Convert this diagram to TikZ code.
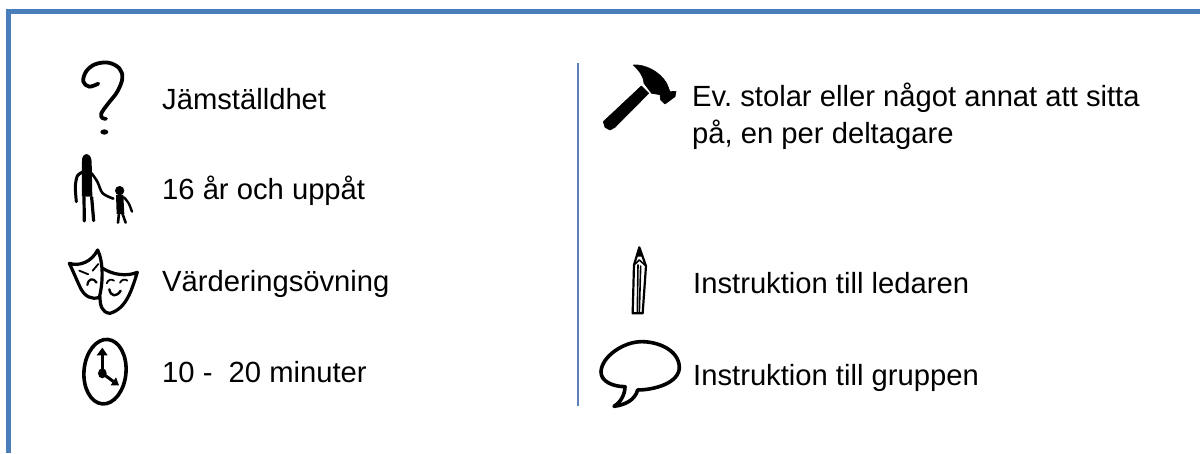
\documentclass[tikz,border=0pt]{standalone}
\usepackage{fontspec}
\setmainfont{Liberation Sans}
\definecolor{framebl}{HTML}{4A7EBB}
\definecolor{divbl}{HTML}{5F80BE}
\tikzset{
  ink/.style={draw=black,line width=#1,line cap=round,line join=round},
  ink/.default=3pt,
  solid ink/.style={fill=black,draw=black,line width=.6pt,line join=round},
  label/.style={anchor=base west,inner sep=0pt,font=\frenchspacing\fontsize{29.2}{36.7}\selectfont,align=left},
  zoomA/.style={shift={(60,40)},x=.3333pt,y=-.3333pt},
  zoomB/.style={shift={(60,240)},x=.3333pt,y=-.3333pt},
  zoomC/.style={shift={(570,50)},x=.3333pt,y=-.3333pt},
  zoomD/.style={shift={(570,240)},x=.3333pt,y=-.3333pt}
}
\begin{document}
\begin{tikzpicture}[x=1pt,y=-1pt]
\useasboundingbox (0,0) rectangle (1200,453);
\fill[white] (0,0) rectangle (1200,453);
% frame
\draw[framebl,line width=5.2pt] (8.6,453) -- (8.6,11.6) -- (1200,11.6);
% divider
\coordinate (divtop) at (578,63);
\coordinate (divbot) at (578,406);
\draw[divbl,line width=2.6pt] (divtop) -- (divbot);
% labels
\node[label] (t1) at (162,109.5) {Jämställdhet};
\node[label] (t2) at (162,199.5) {16 år och uppåt};
\node[label] (t3) at (162,291) {Värderingsövning};
\node[label] (t4) at (162,382) {10 -\ \ 20 minuter};
\node[label] (t5) at (692,143) {Ev. stolar eller något annat att sitta\\på, en per deltagare};
\node[label] (t6) at (693,293) {Instruktion till ledaren};
\node[label] (t7) at (693,385) {Instruktion till gruppen};
% question mark
\begin{scope}[zoomA]
\draw[ink=3.8pt] plot[smooth,tension=.6] coordinates {(115,131)(88,140)(70,125)(78,95)(105,73)(145,68)(178,85)(187,115)(172,155)(145,190)(124,220)(127,234)(138,236)};
\fill (133,276) ellipse [x radius=12,y radius=8];
% adult
\fill (66,470) -- (66,365) .. controls (64,335) and (94,335) .. (95,365) -- (97,470) -- cycle;
\draw[ink=3pt] plot[smooth] coordinates {(68,396)(52,408)(46,440)(49,485)};
\draw[ink=2.6pt] plot[smooth] coordinates {(95,400)(112,425)(128,460)(160,476)};
\draw[ink=3.2pt] (72,472) -- (73,543);
\draw[ink=3.2pt] (95,472) -- (101,542);
% child
\fill (179,452) circle [radius=14];
\fill (168,465) -- (190,465) -- (193,522) -- (170,522) -- cycle;
\draw[ink=2.4pt] plot[smooth] coordinates {(192,472)(206,490)(216,515)};
\draw[ink=2.6pt] (177,520) -- (174,548);
\draw[ink=2.6pt] (187,520) -- (197,548);
\end{scope}
% masks
\begin{scope}[zoomB]
\draw[ink=3.2pt] (28,70) .. controls (60,80) and (95,65) .. (113,30) .. controls (130,65) and (130,125) .. (118,172) .. controls (95,180) and (75,170) .. (62,145) .. controls (50,120) and (40,95) .. (28,70) -- cycle;
\draw[ink=3.2pt] (128,85) .. controls (160,105) and (200,110) .. (232,97) .. controls (215,150) and (200,205) .. (150,220) .. controls (125,218) and (120,195) .. (120,170);
\draw[ink=1.8pt] (58,92) -- (85,103);
\draw[ink=1.8pt] (115,72) -- (98,92);
\draw[ink=2.2pt] (82,135) .. controls (85,115) and (100,112) .. (110,128);
\draw[ink=1.8pt] (140,130) .. controls (145,118) and (155,116) .. (162,122);
\draw[ink=1.8pt] (180,128) .. controls (185,118) and (195,116) .. (202,122);
\draw[ink=2.4pt] (148,148) .. controls (152,170) and (170,172) .. (182,152);
% clock
\draw[ink=3.6pt,rotate around={-5:(135,395)}] (135,395) ellipse [x radius=63,y radius=97];
\fill (127,400) ellipse [x radius=13,y radius=15];
\draw[ink=3.4pt] (127,400) -- (127,335);
\fill (127,323) -- (143,346) -- (110,346) -- cycle;
\draw[ink=3pt] (127,400) -- (165,428);
\fill (177,436) -- (152,436) -- (168,412) -- cycle;
\end{scope}
% hammer
\begin{scope}[zoomC]
\fill[solid ink] (100,215) -- (214,108) -- (236,130) -- (135,232) -- (120,240) -- (105,232) -- cycle;
\fill[solid ink] (190,45) .. controls (225,42) and (270,65) .. (290,100) -- (300,125) -- (318,124) -- (315,140) -- (285,162) -- (272,150) -- (270,134) -- (245,130) -- (222,100) .. controls (220,75) and (205,60) .. (190,45) -- cycle;
\end{scope}
% pencil and bubble
\begin{scope}[zoomD]
\fill (208,22) -- (218,50) -- (198,50) -- cycle;
\draw[ink=2.2pt] (208,22) -- (228,78) -- (218,220) -- (188,220) -- (192,75) -- cycle;
\draw[ink=1.6pt] (192,75) -- (208,60) -- (228,78);
\draw[ink=1.6pt] (204,75) -- (202,218);
\draw[ink=1.6pt] (212,78) -- (208,218);
\draw[ink=3.6pt] (165,440) .. controls (165,460) and (155,485) .. (132,499) .. controls (165,495) and (195,480) .. (203,450) .. controls (250,450) and (330,430) .. (328,380) .. controls (325,330) and (265,305) .. (215,305) .. controls (160,305) and (95,350) .. (93,395) .. controls (92,425) and (130,440) .. (165,440) -- cycle;
\end{scope}
\end{tikzpicture}
\end{document}
